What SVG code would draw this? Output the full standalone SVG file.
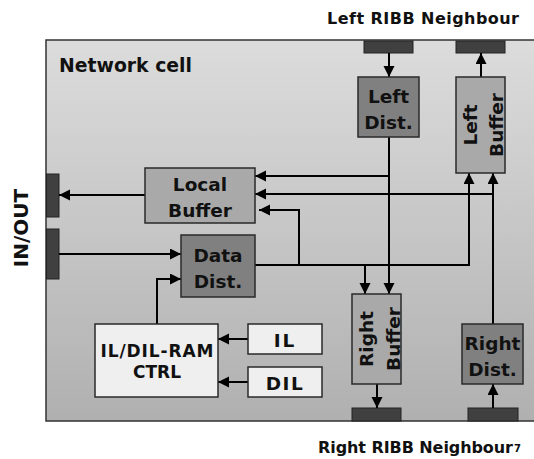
<svg xmlns="http://www.w3.org/2000/svg" width="534" height="459" viewBox="0 0 534 459">
<style>
text{font-family:"DejaVu Sans",Verdana,sans-serif;font-weight:bold;fill:#111}
.bt{font-size:18.5px;text-anchor:middle}
.port{fill:#404040;stroke:#222;stroke-width:1}
.dist{fill:#808080;stroke:#2a2a2a;stroke-width:1.5}
.buf{fill:#a9a9a9;stroke:#2a2a2a;stroke-width:1.5}
.ctl{fill:#efefef;stroke:#2a2a2a;stroke-width:1.5}
.c path{fill:none;stroke:#000;stroke-width:2;marker-end:url(#ah)}
</style>
<defs>
<linearGradient id="g" x1="0" y1="0" x2="0" y2="1">
<stop offset="0" stop-color="#dcdcdc"/>
<stop offset="1" stop-color="#b0b0b0"/>
</linearGradient>
<marker id="ah" markerUnits="userSpaceOnUse" markerWidth="12" markerHeight="12" refX="11" refY="5.5" orient="auto">
<path d="M0,0 L11,5.5 L0,11 z" fill="#000"/>
</marker>
</defs>
<rect width="534" height="459" fill="#fff"/>
<g id="cell">
<rect x="46" y="40" width="500" height="381" fill="url(#g)"/>
<path d="M536,40 H46 V421 H536" fill="none" stroke="#333" stroke-width="1.5"/>
<text x="59" y="72" style="font-size:19.5px" textLength="133" lengthAdjust="spacingAndGlyphs">Network cell</text>
</g>
<text x="327" y="24" style="font-size:16px" textLength="192" lengthAdjust="spacing">Left RIBB Neighbour</text>
<text x="318" y="453" style="font-size:16px" textLength="195" lengthAdjust="spacing">Right RIBB Neighbour</text>
<text x="514" y="452" style="font-size:10px">7</text>
<text transform="translate(28,228) rotate(-90)" style="font-size:20px;text-anchor:middle">IN/OUT</text>
<g id="ports">
<rect class="port" x="364" y="41" width="49" height="12"/>
<rect class="port" x="456" y="41" width="49" height="12"/>
<rect class="port" x="352" y="408" width="49" height="13"/>
<rect class="port" x="468" y="408" width="50" height="13"/>
<rect class="port" x="46.5" y="174" width="12.5" height="43"/>
<rect class="port" x="46.5" y="229" width="12.5" height="50"/>
</g>
<g class="c" id="connectors">
<path d="M389,53 V77"/>
<path d="M481,77 V53"/>
<path d="M389,137 V294"/>
<path d="M389,176 H255"/>
<path d="M493,324 V173"/>
<path d="M493,194 H255"/>
<path d="M255,265 H469 V173"/>
<path d="M299,265 V210 H259"/>
<path d="M365,265 V294"/>
<path d="M145,195 H59"/>
<path d="M59,254 H181"/>
<path d="M157,324 V279 H181"/>
<path d="M248,339 H218"/>
<path d="M248,382 H218"/>
<path d="M377,384 V408"/>
<path d="M493,408 V384"/>
</g>
<g id="leftdist">
<rect class="dist" x="358" y="77" width="61" height="60"/>
<text class="bt" x="388.5" y="103">Left</text>
<text class="bt" x="388.5" y="129">Dist.</text>
</g>
<g id="leftbuffer">
<rect class="buf" x="456" y="77" width="49" height="96"/>
<text class="bt" transform="translate(477,125) rotate(-90)">Left</text>
<text class="bt" transform="translate(503,125) rotate(-90)">Buffer</text>
</g>
<g id="localbuffer">
<rect class="buf" x="145" y="168" width="110" height="55"/>
<text class="bt" x="200" y="191">Local</text>
<text class="bt" x="200" y="217">Buffer</text>
</g>
<g id="datadist">
<rect class="dist" x="181" y="235" width="74" height="62"/>
<text class="bt" x="218" y="262">Data</text>
<text class="bt" x="218" y="288">Dist.</text>
</g>
<g id="rightbuffer">
<rect class="buf" x="352" y="294" width="49" height="90"/>
<text class="bt" transform="translate(373,339) rotate(-90)">Right</text>
<text class="bt" transform="translate(400,339) rotate(-90)">Buffer</text>
</g>
<g id="rightdist">
<rect class="dist" x="462" y="324" width="61" height="60"/>
<text class="bt" x="492.5" y="350">Right</text>
<text class="bt" x="492.5" y="376">Dist.</text>
</g>
<g id="ctrl">
<rect class="ctl" x="95" y="324" width="123" height="73"/>
<text class="bt" x="157" y="357" style="font-size:17px" textLength="113" lengthAdjust="spacing">IL/DIL-RAM</text>
<text class="bt" x="157" y="378" style="font-size:17px">CTRL</text>
</g>
<g id="il">
<rect class="ctl" x="248" y="324" width="74" height="30"/>
<text class="bt" x="285" y="347" style="letter-spacing:2px">IL</text>
</g>
<g id="dil">
<rect class="ctl" x="248" y="367" width="74" height="30"/>
<text class="bt" x="285" y="390" style="letter-spacing:1.5px">DIL</text>
</g>
</svg>
